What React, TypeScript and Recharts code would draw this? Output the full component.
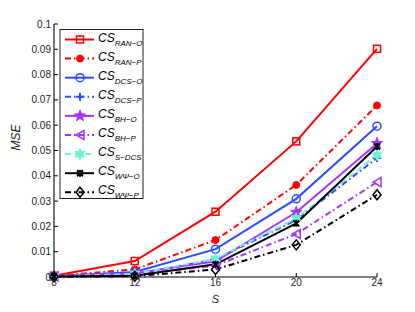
import React from 'react';
import { LineChart, Line, XAxis, YAxis } from 'recharts';

const sValues = [8, 12, 16, 20, 24];
const ranO = [0.0005, 0.0063, 0.0258, 0.0536, 0.0902];
const ranP = [0.0004, 0.003, 0.0146, 0.0364, 0.0678];
const dcsO = [0.0003, 0.002, 0.011, 0.0309, 0.0596];
const dcsP = [0.0002, 0.001, 0.007, 0.0225, 0.047];
const bhO = [0.0003, 0.0015, 0.0062, 0.0256, 0.0528];
const bhP = [0.0002, 0.001, 0.0045, 0.017, 0.0375];
const sDcs = [0.0002, 0.0012, 0.0072, 0.0232, 0.0482];
const wpO = [0.0002, 0.0005, 0.005, 0.0212, 0.0516];
const wpP = [0.0001, 0.0003, 0.003, 0.0127, 0.0325];
const yTicks = [0, 0.01, 0.02, 0.03, 0.04, 0.05, 0.06, 0.07, 0.08, 0.09, 0.1];

const series = [
  { key: 'ranO', sub: 'RAN\u2212O', vals: ranO, color: '#ff0000', dash: undefined, marker: 'square' },
  { key: 'ranP', sub: 'RAN\u2212P', vals: ranP, color: '#ff0000', dash: '6 3 1.5 3', marker: 'dot' },
  { key: 'dcsO', sub: 'DCS\u2212O', vals: dcsO, color: '#2b4cff', dash: undefined, marker: 'circle' },
  { key: 'dcsP', sub: 'DCS\u2212P', vals: dcsP, color: '#2b4cff', dash: '6 3 1.5 3', marker: 'plus' },
  { key: 'bhO', sub: 'BH\u2212O', vals: bhO, color: '#a833ff', dash: undefined, marker: 'star' },
  { key: 'bhP', sub: 'BH\u2212P', vals: bhP, color: '#a833ff', dash: '6 3 1.5 3', marker: 'tri' },
  { key: 'sDcs', sub: 'S\u2212DCS', vals: sDcs, color: '#6ff2d8', dash: '6 4', marker: 'hex' },
  { key: 'wpO', sub: 'W\u03a8\u2212O', vals: wpO, color: '#000000', dash: undefined, marker: 'x' },
  { key: 'wpP', sub: 'W\u03a8\u2212P', vals: wpP, color: '#000000', dash: '6 3 1.5 3', marker: 'diamond' },
];

const data = sValues.map((s, i) => {
  const row: Record<string, number> = { s };
  series.forEach((sr) => (row[sr.key] = sr.vals[i]));
  return row;
});

function starPts(cx: number, cy: number, n: number, r1: number, r2: number) {
  const pts: string[] = [];
  for (let i = 0; i < n * 2; i++) {
    const r = i % 2 === 0 ? r1 : r2;
    const a = (Math.PI * i) / n - Math.PI / 2;
    pts.push(`${cx + r * Math.cos(a)},${cy + r * Math.sin(a)}`);
  }
  return pts.join(' ');
}

function Marker({ type, cx, cy, color }: { type: string; cx: number; cy: number; color: string }) {
  const sw = 1.5;
  switch (type) {
    case 'square':
      return <rect x={cx - 3.5} y={cy - 3.5} width={7} height={7} fill="none" stroke={color} strokeWidth={sw} />;
    case 'dot':
      return <circle cx={cx} cy={cy} r={3.5} fill={color} stroke={color} />;
    case 'circle':
      return <circle cx={cx} cy={cy} r={4} fill="none" stroke={color} strokeWidth={sw} />;
    case 'plus':
      return <path d={`M${cx - 4},${cy}H${cx + 4}M${cx},${cy - 4}V${cy + 4}`} stroke={color} strokeWidth={2} />;
    case 'star':
      return <polygon points={starPts(cx, cy, 5, 6, 2.5)} fill={color} stroke={color} strokeWidth={1} />;
    case 'tri':
      return <polygon points={`${cx - 4},${cy} ${cx + 4},${cy - 4.5} ${cx + 4},${cy + 4.5}`} fill="none" stroke={color} strokeWidth={sw} />;
    case 'hex':
      return <polygon points={starPts(cx, cy, 6, 5.5, 3)} fill={color} stroke={color} strokeWidth={1} />;
    case 'x':
      return <path d={`M${cx - 3},${cy - 3}L${cx + 3},${cy + 3}M${cx - 3},${cy + 3}L${cx + 3},${cy - 3}M${cx},${cy - 3.5}V${cy + 3.5}`} stroke={color} strokeWidth={2} />;
    case 'diamond':
      return <polygon points={`${cx},${cy - 5} ${cx + 4},${cy} ${cx},${cy + 5} ${cx - 4},${cy}`} fill="none" stroke={color} strokeWidth={sw} />;
    default:
      return null;
  }
}

const font = 'Liberation Sans, Arial, sans-serif';

function LegendBox() {
  const rowH = 19.1;
  return (
    <svg width={90} height={172} style={{ position: 'absolute', left: 59, top: 29 }}>
      <rect x={1} y={0.5} width={83} height={169} fill="#fff" stroke="#222" strokeWidth={1} />
      {series.map((sr, i) => {
        const y = 10.5 + i * rowH;
        return (
          <g key={sr.key}>
            <line x1={6} x2={35} y1={y} y2={y} stroke={sr.color} strokeWidth={2} strokeDasharray={sr.dash} />
            <Marker type={sr.marker} cx={21} cy={y} color={sr.color} />
            <text x={39} y={y + 2} fontFamily={font} fontSize={12} fontStyle="italic" fill="#000">
              CS
              <tspan fontSize={8} dy={4}>{sr.sub}</tspan>
            </text>
          </g>
        );
      })}
    </svg>
  );
}

export default function App() {
  return (
    <div style={{ position: 'absolute', left: 0, top: 0, width: 415, height: 312, background: '#fff' }}>
      <LineChart width={415} height={312} data={data} margin={{ top: 24, right: 38, left: 0, bottom: 0 }}>
        <XAxis
          xAxisId="b"
          dataKey="s"
          type="number"
          domain={[8, 24]}
          ticks={sValues}
          height={35}
          tickSize={-4}
          tickMargin={6}
          tick={{ fontSize: 10, fill: '#222', fontFamily: font }}
          stroke="#000"
          axisLine={{ stroke: '#000' }}
          label={{ value: 'S', position: 'insideBottom', offset: 9, fontSize: 11, fontStyle: 'italic', fill: '#222', fontFamily: font }}
        />
        <XAxis
          xAxisId="t"
          orientation="top"
          dataKey="s"
          type="number"
          domain={[8, 24]}
          ticks={sValues}
          height={0}
          tickSize={-4}
          tickFormatter={() => ''}
          stroke="#000"
        />
        <YAxis
          yAxisId="l"
          type="number"
          domain={[0, 0.1]}
          ticks={yTicks}
          width={54}
          tickSize={-4}
          tickMargin={7}
          tick={{ fontSize: 10, fill: '#222', fontFamily: font }}
          stroke="#000"
          axisLine={{ stroke: '#777', strokeWidth: 2 }}
          label={{ value: 'MSE', angle: -90, position: 'insideLeft', offset: 16, fontSize: 12, fontStyle: 'italic', fill: '#222', fontFamily: font }}
        />
        <YAxis
          yAxisId="r"
          orientation="right"
          type="number"
          domain={[0, 0.1]}
          ticks={yTicks}
          width={0}
          tickSize={-4}
          tickFormatter={() => ''}
          stroke="#000"
        />
        {series.map((sr) => (
          <Line
            key={sr.key}
            xAxisId="b"
            yAxisId="l"
            dataKey={sr.key}
            stroke={sr.color}
            strokeWidth={2}
            strokeDasharray={sr.dash}
            isAnimationActive={false}
            dot={(p: any) => <Marker key={`${sr.key}-${p.index}`} type={sr.marker} cx={p.cx} cy={p.cy} color={sr.color} />}
          />
        ))}
      </LineChart>
      <LegendBox />
    </div>
  );
}
